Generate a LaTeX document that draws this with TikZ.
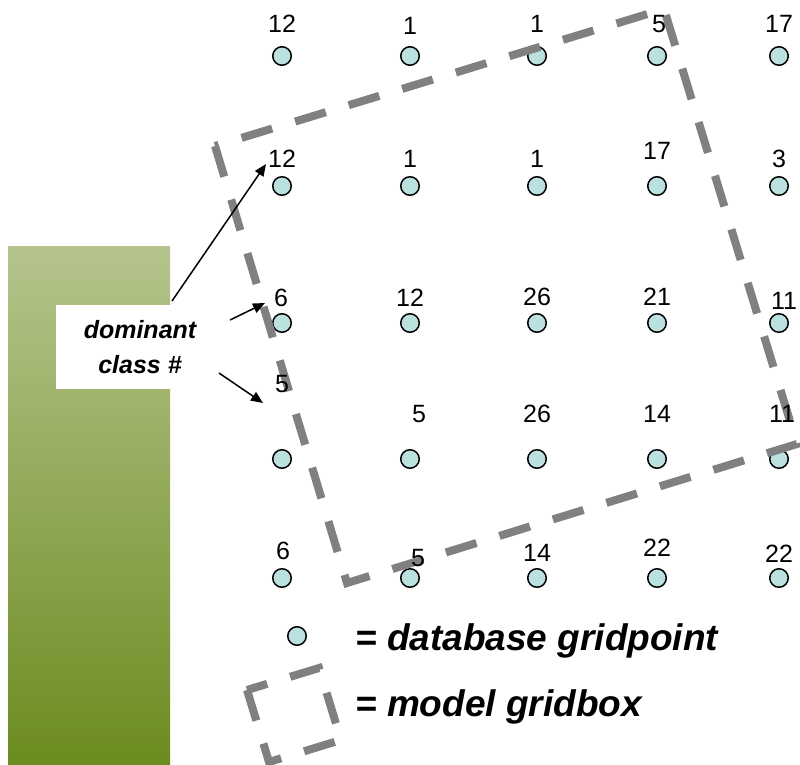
\documentclass[tikz,border=0pt]{standalone}
\usepackage{fontspec}
\setmainfont{Liberation Sans}
\usetikzlibrary{arrows.meta}
\definecolor{dot}{RGB}{186,224,224}
\definecolor{boxgray}{RGB}{128,128,128}
\definecolor{bartop}{RGB}{181,196,141}
\definecolor{barbot}{RGB}{107,140,32}
\begin{document}
\begin{tikzpicture}[x=1pt,y=-1pt,
  gp/.style={circle,draw=black,line width=1.5pt,fill=dot,minimum size=18.5pt,inner sep=0pt},
  num/.style={anchor=base,inner sep=0pt,font=\fontsize{25}{30}\selectfont},
  gbox/.style={draw=boxgray,line width=8pt,dash pattern=on 32pt off 24pt},
  arr/.style={-{Triangle[length=12pt,width=10pt]},line width=1.5pt},
  leg/.style={anchor=base west,inner sep=0pt,font=\fontsize{37}{44}\selectfont\bfseries\itshape}]
\useasboundingbox (0,0) rectangle (800,765);
\clip (0,0) rectangle (800,765);
\fill[white] (0,0) rectangle (800,765);
% green bar
\shade[top color=bartop,bottom color=barbot] (8,246) rectangle (170,765);
% grid points
\node[gp] (p11) at (282,56) {};
\node[gp] (p12) at (410,56) {};
\node[gp] (p13) at (537,56) {};
\node[gp] (p14) at (657,56) {};
\node[gp] (p15) at (779,56) {};
\node[gp] (p21) at (282,186) {};
\node[gp] (p22) at (410,186) {};
\node[gp] (p23) at (537,186) {};
\node[gp] (p24) at (657,186) {};
\node[gp] (p25) at (779,186) {};
\node[gp] (p31) at (282,323) {};
\node[gp] (p32) at (410,323) {};
\node[gp] (p33) at (537,323) {};
\node[gp] (p34) at (657,323) {};
\node[gp] (p35) at (779,323) {};
\node[gp] (p41) at (282,459) {};
\node[gp] (p42) at (410,459) {};
\node[gp] (p43) at (537,459) {};
\node[gp] (p44) at (657,459) {};
\node[gp] (p45) at (779,459) {};
\node[gp] (p51) at (282,578) {};
\node[gp] (p52) at (410,578) {};
\node[gp] (p53) at (537,578) {};
\node[gp] (p54) at (657,578) {};
\node[gp] (p55) at (779,578) {};
% model gridbox
\draw[gbox] (215,146) -- (347,583) -- (797,444) -- (664,9) -- cycle;
% labels
\node[num] (l11) at (282,33) {12};
\node[num] (l12) at (410,35) {1};
\node[num] (l13) at (537,33) {1};
\node[num] (l14) at (659,33) {5};
\node[num] (l15) at (779,33) {17};
\node[num] (l21) at (282,167) {12};
\node[num] (l22) at (410,167) {1};
\node[num] (l23) at (537,167) {1};
\node[num] (l24) at (657,159) {17};
\node[num] (l25) at (779,167) {3};
\node[num] (l31) at (281,306) {6};
\node[num] (l32) at (410,306) {12};
\node[num] (l33) at (537,305) {26};
\node[num] (l34) at (657,305) {21};
\node[num] (l35) at (784,309) {11};
\node[num] (l41) at (282,392) {5};
\node[num] (l42) at (419,422) {5};
\node[num] (l43) at (537,422) {26};
\node[num] (l44) at (657,422) {14};
\node[num] (l45) at (782,422) {11};
\node[num] (l51) at (283,559) {6};
\node[num] (l52) at (418,566) {5};
\node[num] (l53) at (537,561) {14};
\node[num] (l54) at (657,556) {22};
\node[num] (l55) at (779,562) {22};
% label box
\node[fill=white,minimum width=168pt,minimum height=84pt,inner sep=0pt,align=center,
  font=\fontsize{25}{35}\selectfont\bfseries\itshape] (dc) at (140,347) {dominant\\class \#};
% arrows
\coordinate (a1s) at (172,301);
\coordinate (a1e) at (266,164);
\coordinate (a2s) at (230,320);
\coordinate (a2e) at (265,303);
\coordinate (a3s) at (219,373);
\coordinate (a3e) at (263,403);
\draw[arr] (a1s) -- (a1e);
\draw[arr] (a2s) -- (a2e);
\draw[arr] (a3s) -- (a3e);
% legend
\node[gp] (lgp) at (297,636) {};
\draw[gbox] (247,690) -- (269,762) -- (341,740) -- (319,668) -- cycle;
\node[leg] (t1) at (355,650) {= database gridpoint};
\node[leg] (t2) at (355,716) {= model gridbox};
\end{tikzpicture}
\end{document}
